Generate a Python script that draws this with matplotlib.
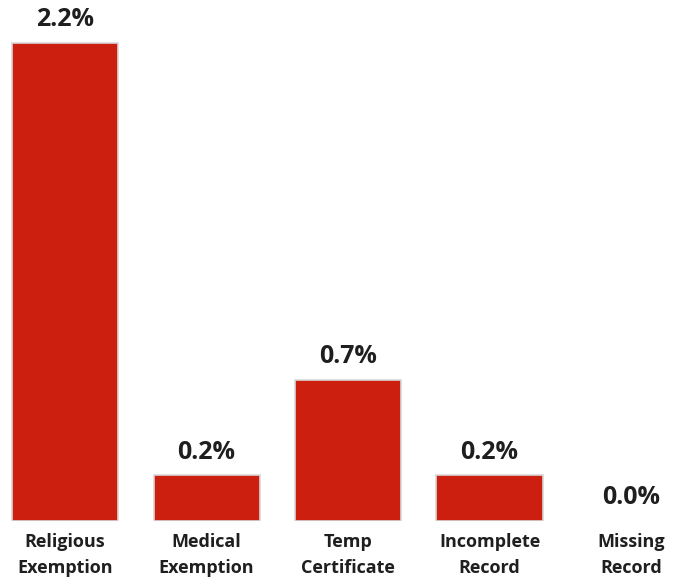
import matplotlib.pyplot as plt

categories = ["Religious\nExemption", "Medical\nExemption", "Temp\nCertificate",
              "Incomplete\nRecord", "Missing\nRecord"]
values = [2.2, 0.21, 0.65, 0.21, 0.0]
value_labels = ["2.2%", "0.2%", "0.7%", "0.2%", "0.0%"]

plt.rcParams['font.family'] = ['Open Sans', 'DejaVu Sans']

fig = plt.figure(figsize=(6.73, 5.8), dpi=100)
ax = fig.add_axes([0, 0.1017, 1, 0.8983])

x = list(range(len(values)))
edges = ["#d8d8d8" if v > 0 else "none" for v in values]
ax.bar(x, values, width=0.75, color="#CC1F10", edgecolor=edges, linewidth=1.2)

for xi, v, lab in zip(x, values, value_labels):
    ax.text(xi, v + 0.05, lab, ha="center", va="bottom", fontsize=18,
            fontweight="bold", color="#1f1f1f")

for xi, cat in zip(x, categories):
    ax.text(xi, -0.055, cat, ha="center", va="top", fontsize=13,
            fontweight="bold", color="#1f1f1f", linespacing=1.6)

ax.set_xlim(-0.46, 4.297)
ax.set_ylim(0, 2.398)
ax.axis("off")

fig.savefig("out.png", dpi=100)
